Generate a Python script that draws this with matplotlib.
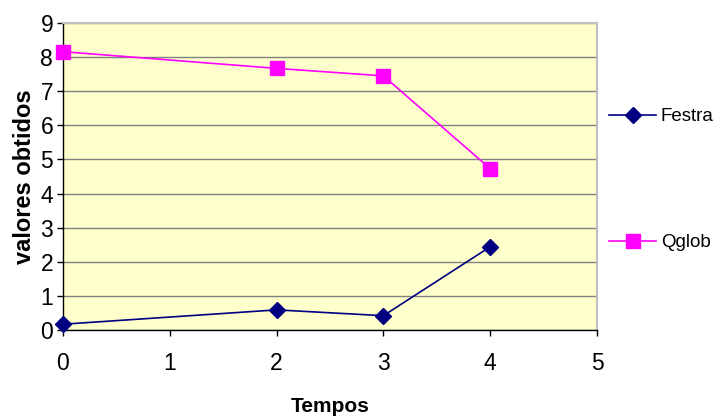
import matplotlib
matplotlib.use('Agg')
from matplotlib import pyplot as plt

# data
tempos = [0, 2, 3, 4]
festra = [0.17, 0.59, 0.42, 2.44]
qglob = [8.16, 7.67, 7.45, 4.73]
xticks = [0, 1, 2, 3, 4, 5]
yticks = [0, 1, 2, 3, 4, 5, 6, 7, 8, 9]

plt.rcParams['font.family'] = ['Liberation Sans', 'DejaVu Sans']

fig = plt.figure(figsize=(7.18, 4.17), dpi=100)
ax = fig.add_axes([0.0877, 0.2086, 0.7438, 0.7362])
ax.set_facecolor('#FFFFCC')

ax.plot(tempos, festra, color='#000080', lw=1.2, marker='D', ms=8,
        label='Festra', clip_on=False, zorder=3)
ax.plot(tempos, qglob, color='#FF00FF', lw=1.2, marker='s', ms=10,
        label='Qglob', clip_on=False, zorder=3)

ax.set_xlim(0, 5)
ax.set_ylim(0, 9)
ax.set_xticks(xticks)
ax.set_yticks(yticks)
ax.tick_params(labelsize=16.5, length=4, width=1, colors='black')
ax.tick_params(axis='x', pad=12)
ax.tick_params(axis='y', pad=3)
ax.yaxis.grid(True, color='#808080', lw=1)
ax.set_axisbelow(True)
for s in ['top', 'right']:
    ax.spines[s].set_color('#C0C0C0')
    ax.spines[s].set_linewidth(1.5)
for s in ['left', 'bottom']:
    ax.spines[s].set_color('black')
    ax.spines[s].set_linewidth(1)

ax.set_xlabel('Tempos', fontsize=15, fontweight='bold', labelpad=16)
ax.set_ylabel('valores obtidos', fontsize=17, fontweight='bold', labelpad=3)

ax.legend(loc='center left', bbox_to_anchor=(1.0, 0.49), frameon=False,
          fontsize=13.5, labelspacing=5.8, handlelength=2.5,
          handletextpad=0.25, borderpad=0, borderaxespad=0.65)

fig.savefig('out.png', dpi=100)
